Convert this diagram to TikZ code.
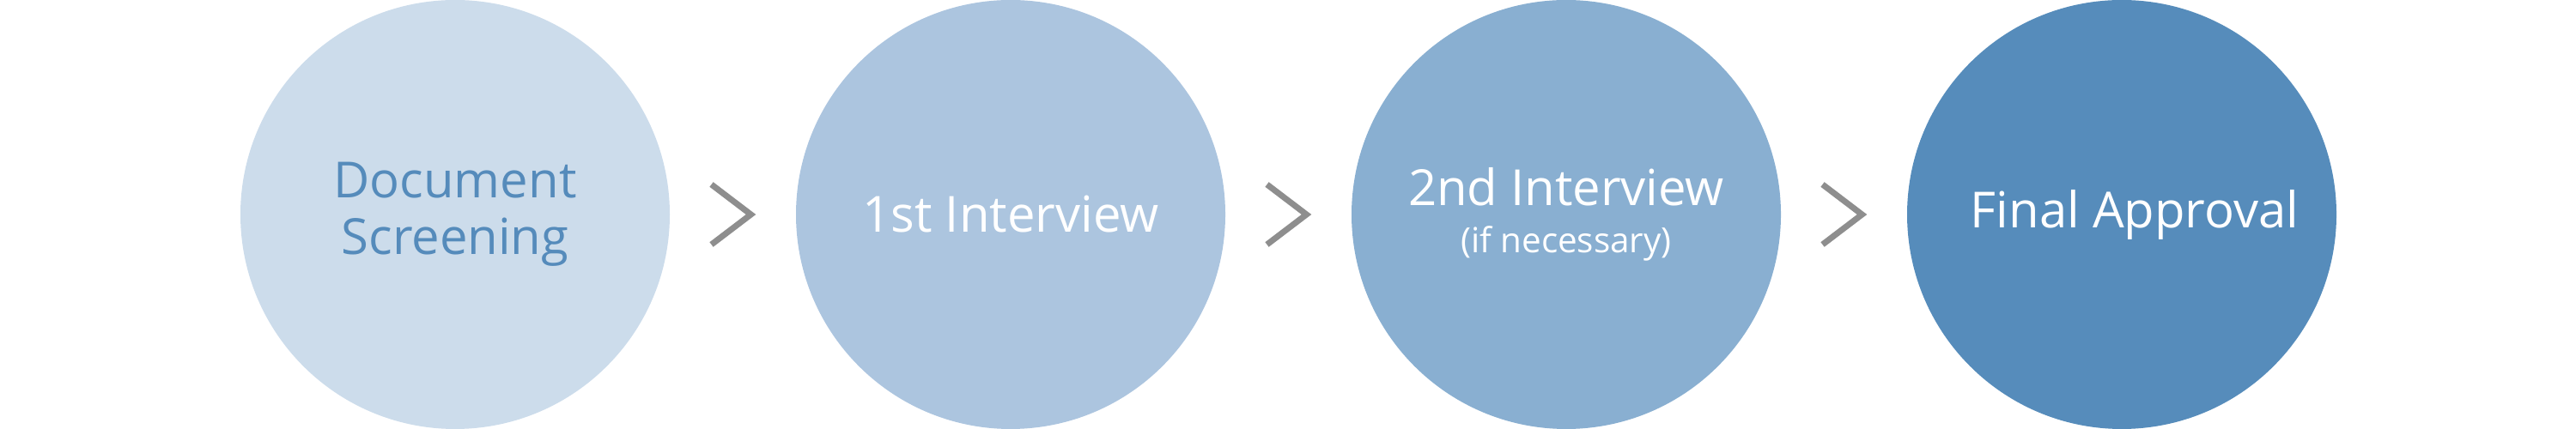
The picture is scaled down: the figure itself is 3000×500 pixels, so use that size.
\documentclass[tikz,border=0pt]{standalone}
\usepackage{fontspec}
\setmainfont{Open Sans}
\usetikzlibrary{calc}
\definecolor{cone}{HTML}{CCDCEB}
\definecolor{ctwo}{HTML}{ACC5DF}
\definecolor{cthree}{HTML}{89AFD1}
\definecolor{cfour}{HTML}{568CBB}
\definecolor{txtblue}{HTML}{558BBB}
\definecolor{chevgray}{HTML}{8E8E8E}
\begin{document}
\begin{tikzpicture}[x=0.1mm,y=-0.1mm,
  stage/.style={circle,minimum size=50mm,inner sep=0pt,draw=none,align=center,
    font=\fontsize{16.5}{18.8}\selectfont},
  chev/.style={draw=chevgray,line width=0.7mm,miter limit=10}]
\useasboundingbox (0,0) rectangle (3000,500);
\node[stage,fill=cone,text=txtblue] (c1) at (530,250) {Document\\Screening};
\node[stage,fill=ctwo,text=white] (c2) at (1177,250) {1st Interview};
\node[stage,fill=cthree,text=white] (c3) at (1824,250) {2nd Interview\\[-3pt]{\fontsize{11.5}{13}\selectfont (if necessary)}};
\node[stage,fill=cfour,text=white] (c4) at (2471,250) {\hspace*{3mm}Final Approval};
\foreach \a/\b in {c1/c2,c2/c3,c3/c4}{
  \coordinate (m) at ($(\a.east)!0.5!(\b.west)$);
  \draw[chev] ($(m)+(-25,-35)$) -- ($(m)+(21,0)$) -- ($(m)+(-25,35)$);
}
\end{tikzpicture}
\end{document}
